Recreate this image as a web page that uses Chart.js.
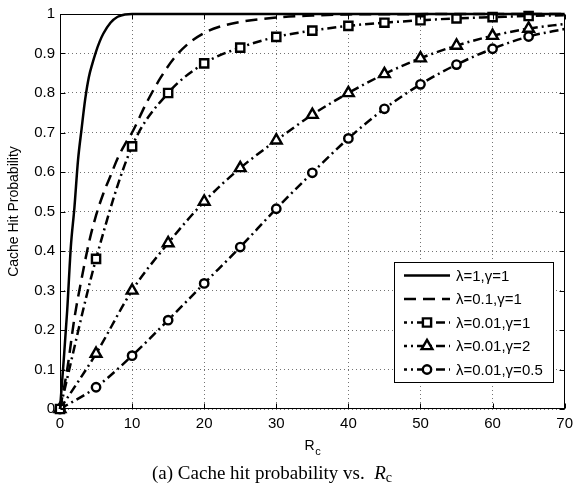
<!DOCTYPE html>
<html>
<head>
<meta charset="utf-8">
<script src="https://cdn.jsdelivr.net/npm/chart.js@4.4.0/dist/chart.umd.min.js"></script>
<style>
  html, body { margin: 0; padding: 0; background: #fff; }
  #wrap { position: relative; width: 579px; height: 504px; }
  #caption {
    position: absolute; left: 0; width: 544px; top: 462px;
    text-align: center; color: #000; line-height: 24px;
    font: 19px "Liberation Serif", "Times New Roman", serif;
  }
  #caption .sub { font-size: 14px; position: relative; top: 3px; }
</style>
</head>
<body>
<div id="wrap">
  <canvas id="chart" width="579" height="504"></canvas>
  <div id="caption">(a) Cache hit probability vs.&nbsp; <i>R</i><span class="sub">c</span></div>
</div>
<script>
// ==================== data ====================
const seriesLabels = ["λ=1,γ=1", "λ=0.1,γ=1", "λ=0.01,γ=1", "λ=0.01,γ=2", "λ=0.01,γ=0.5"];

// λ=1, γ=1 (solid)
const solidX = [0, 0.5, 1, 1.5, 2, 2.5, 3, 3.5, 4, 4.5, 5, 5.5, 6, 7, 8, 9, 10, 70];
const solidY = [0, 0.12, 0.25, 0.41, 0.51, 0.63, 0.71, 0.785, 0.84, 0.875, 0.905, 0.93, 0.95, 0.978, 0.993, 0.999, 1, 1];

// λ=0.1, γ=1 (dashed)
const dashX = [0, 1, 2, 3, 4, 5, 6, 7, 8, 9, 10, 12, 14, 16, 18, 20, 22, 25, 30, 35, 40, 70];
const dashY = [0, 0.1, 0.23, 0.33, 0.42, 0.49, 0.545, 0.59, 0.635, 0.67, 0.70, 0.775, 0.84, 0.892, 0.928, 0.952, 0.967, 0.98, 0.991, 0.996, 0.999, 1];

// marker series (sampled every 5, last point has no marker)
const markerX = [0, 5, 10, 15, 20, 25, 30, 35, 40, 45, 50, 55, 60, 65, 70];
const squareY = [0, 0.38, 0.665, 0.80, 0.875, 0.915, 0.942, 0.958, 0.97, 0.978, 0.984, 0.989, 0.992, 0.995, 0.997];
const triangleY = [0, 0.14, 0.30, 0.42, 0.525, 0.61, 0.68, 0.745, 0.80, 0.848, 0.888, 0.92, 0.945, 0.963, 0.975];
const circleY = [0, 0.055, 0.135, 0.225, 0.318, 0.41, 0.507, 0.598, 0.685, 0.76, 0.822, 0.872, 0.912, 0.943, 0.962];

const xTicks = [0, 10, 20, 30, 40, 50, 60, 70];
const yTicks = [0, 0.1, 0.2, 0.3, 0.4, 0.5, 0.6, 0.7, 0.8, 0.9, 1];

// ==================== styles ====================
const SANS = '"Liberation Sans", Arial, Helvetica, sans-serif';
const DASH = [12, 7];
const DASHDOT = [9, 4, 2, 4];
const LW = 2.5;

const toPts = (xs, ys) => xs.map((x, i) => ({ x, y: ys[i] }));
const markerRadius = r => markerX.map(x => (x < 70 ? r : 0));

const datasets = [
  { label: seriesLabels[0], data: toPts(solidX, solidY), borderDash: [], pointRadius: 0, style: "none" },
  { label: seriesLabels[1], data: toPts(dashX, dashY), borderDash: DASH, pointRadius: 0, style: "none" },
  { label: seriesLabels[2], data: toPts(markerX, squareY), borderDash: DASHDOT, pointStyle: "rect", pointRadius: markerRadius(5.8), style: "rect" },
  { label: seriesLabels[3], data: toPts(markerX, triangleY), borderDash: DASHDOT, pointStyle: "triangle", pointRadius: markerRadius(6.2), style: "triangle" },
  { label: seriesLabels[4], data: toPts(markerX, circleY), borderDash: DASHDOT, pointStyle: "circle", pointRadius: markerRadius(4.2), style: "circle" }
].map(d => ({
  ...d,
  borderColor: "#000",
  borderWidth: LW,
  backgroundColor: "#fff",
  pointBackgroundColor: "#fff",
  pointBorderColor: "#000",
  pointBorderWidth: 2.4,
  cubicInterpolationMode: "monotone",
  fill: false,
  clip: 10
}));

// 마커 직접 그리기 (범례용)
function drawMarker(ctx, style, x, y) {
  ctx.save();
  ctx.setLineDash([]);
  ctx.lineWidth = 2.4;
  ctx.strokeStyle = "#000";
  ctx.fillStyle = "#fff";
  ctx.beginPath();
  if (style === "rect") {
    const s = 5.8 * Math.SQRT1_2;
    ctx.rect(x - s, y - s, 2 * s, 2 * s);
  } else if (style === "triangle") {
    const r = 6.2;
    for (let k = 0; k < 3; k++) {
      const a = k * 2 * Math.PI / 3;
      const px = x + Math.sin(a) * r, py = y - Math.cos(a) * r;
      k ? ctx.lineTo(px, py) : ctx.moveTo(px, py);
    }
    ctx.closePath();
  } else if (style === "circle") {
    ctx.arc(x, y, 4.2, 0, Math.PI * 2);
  }
  ctx.fill();
  ctx.stroke();
  ctx.restore();
}

/* ===== 프레임, 안쪽 눈금, x축 제목, 범례 ===== */
const framePlugin = {
  id: "frame",
  afterDraw(chart) {
    const { ctx, chartArea: a, scales } = chart;
    const L = Math.round(a.left) + 0.5, R = Math.round(a.right) - 0.5;
    const T = Math.round(a.top) + 0.5, B = Math.round(a.bottom) - 0.5;
    ctx.save();
    ctx.strokeStyle = "#000";
    ctx.lineWidth = 1;
    ctx.setLineDash([]);
    ctx.strokeRect(L, T, R - L, B - T);

    ctx.beginPath();
    xTicks.forEach(v => {
      const px = Math.round(scales.x.getPixelForValue(v)) + 0.5;
      ctx.moveTo(px, B); ctx.lineTo(px, B - 5);
      ctx.moveTo(px, T); ctx.lineTo(px, T + 5);
    });
    yTicks.forEach(v => {
      const py = Math.round(scales.y.getPixelForValue(v)) + 0.5;
      ctx.moveTo(L, py); ctx.lineTo(L + 5, py);
      ctx.moveTo(R, py); ctx.lineTo(R - 5, py);
    });
    ctx.stroke();

    // x축 제목 R_c
    const cx = (a.left + a.right) / 2;
    ctx.fillStyle = "#000";
    ctx.textBaseline = "alphabetic";
    ctx.font = `14px ${SANS}`;
    const wR = ctx.measureText("R").width;
    ctx.font = `11px ${SANS}`;
    const wc = ctx.measureText("c").width;
    const x0 = cx - (wR + wc) / 2;
    ctx.font = `14px ${SANS}`;
    ctx.textAlign = "left";
    ctx.fillText("R", x0, 450);
    ctx.font = `11px ${SANS}`;
    ctx.fillText("c", x0 + wR + 0.5, 455);

    // 범례
    const box = { x: 394.5, y: 262.5, w: 159, h: 120 };
    ctx.fillStyle = "#fff";
    ctx.fillRect(box.x, box.y, box.w, box.h);
    ctx.strokeStyle = "#000";
    ctx.lineWidth = 1;
    ctx.strokeRect(box.x, box.y, box.w, box.h);

    chart.data.datasets.forEach((ds, i) => {
      const yy = 275.5 + i * 23.5;
      ctx.save();
      ctx.lineWidth = LW;
      ctx.strokeStyle = "#000";
      ctx.setLineDash(ds.borderDash);
      ctx.lineDashOffset = ds.borderDash === DASHDOT ? 6 : 0;
      ctx.beginPath();
      ctx.moveTo(404, yy);
      ctx.lineTo(450, yy);
      ctx.stroke();
      ctx.restore();
      if (ds.style !== "none") drawMarker(ctx, ds.style, 427, yy);
      ctx.fillStyle = "#000";
      ctx.font = `15px ${SANS}`;
      ctx.textAlign = "left";
      ctx.textBaseline = "middle";
      ctx.fillText(ds.label, 456, yy + 1);
    });
    ctx.restore();
  }
};

const ctx = document.getElementById("chart").getContext("2d");
new Chart(ctx, {
  type: "line",
  data: { datasets },
  options: {
    responsive: false,
    animation: false,
    events: [],
    layout: { padding: { top: 7, right: 10, left: 0, bottom: 0 } },
    plugins: { legend: { display: false }, tooltip: { enabled: false } },
    scales: {
      x: {
        type: "linear", min: 0, max: 70,
        afterBuildTicks: s => { s.ticks = xTicks.map(v => ({ value: v })); },
        ticks: { color: "#000", font: { family: SANS, size: 15 }, padding: 6, maxRotation: 0 },
        grid: { color: "rgba(0,0,0,0.55)", lineWidth: 1, drawTicks: false },
        border: { display: false, dash: [1, 3] },
        afterFit: s => { s.height = 95; }
      },
      y: {
        type: "linear", min: 0, max: 1,
        afterBuildTicks: s => { s.ticks = yTicks.map(v => ({ value: v })); },
        ticks: { color: "#000", font: { family: SANS, size: 15 }, padding: 5, callback: v => String(+v.toFixed(1)) },
        grid: { color: "rgba(0,0,0,0.55)", lineWidth: 1, drawTicks: false },
        border: { display: false, dash: [1, 3] },
        title: { display: true, text: "Cache Hit Probability", color: "#000", font: { family: SANS, size: 14 }, padding: { top: 6, bottom: 0 } },
        afterFit: s => { s.width = 60; }
      }
    }
  },
  plugins: [framePlugin]
});
</script>
</body>
</html>
